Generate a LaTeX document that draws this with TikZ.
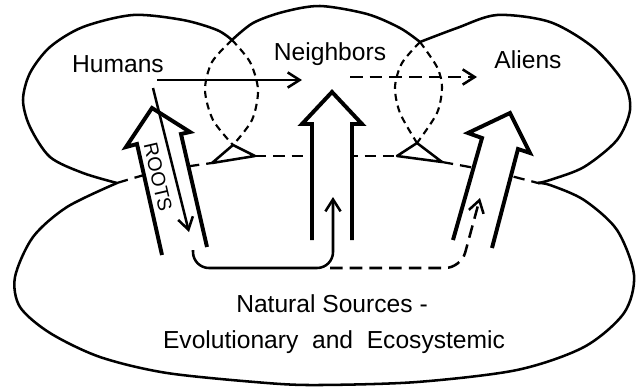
\documentclass[tikz,border=0pt]{standalone}
\usepackage{fontspec}
\setmainfont{Liberation Sans}
\usetikzlibrary{arrows.meta, positioning}
\tikzset{
  region/.style={line width=1.8pt, line join=round},
  seam/.style={line width=1.5pt, dash pattern=on 5pt off 3.5pt},
  horizon/.style={line width=1.6pt, dash pattern=on 8pt off 5pt},
  bigarrow/.style={line width=2.8pt, line join=miter},
  flowline/.style={line width=1.8pt, -{Straight Barb[length=3mm,width=3.8mm]}},
  dashflow/.style={flowline, dash pattern=on 9pt off 5pt},
  lbltext/.style={font=\fontsize{17.5}{21}\selectfont, inner sep=0pt, anchor=base},
}

\begin{document}
\begin{tikzpicture}[x=0.025cm, y=-0.025cm]
  \useasboundingbox (0,0) rectangle (637,389);
  % where the lobes meet
  \coordinate (notchL) at (117,183);
  \coordinate (notchR) at (538,183);
  \coordinate (cuspA) at (232,40);
  \coordinate (cuspB) at (420,42);
  \coordinate (apexA) at (233,145);
  \coordinate (apexB) at (417,143);
  % upper lobes
  \draw[region] plot[smooth] coordinates {(117,183) (83,173) (50,157) (30,127) (23,100) (30,73) (50,47) (83,27) (133,15) (183,20) (217,30) (232,40)};
  \draw[region] plot[smooth] coordinates {(232,40) (253,23) (283,12) (320,6) (367,14) (400,28) (420,42)};
  \draw[region] plot[smooth] coordinates {(420,42) (457,28) (497,15) (550,22) (594,48) (624,83) (630,110) (617,140) (584,167) (550,180) (538,183)};
  % lower lobe
  \draw[region] plot[smooth] coordinates {(117,183) (67,207) (33,237) (15,277) (20,307) (50,333) (100,357) (167,373) (267,383) (320,385) (417,382) (517,370) (584,347) (624,313) (634,275) (617,230) (584,200) (550,185) (538,183)};
  % overlaps
  \draw[seam] plot[smooth] coordinates {(232,40) (212,62) (205,90) (213,120) (233,145)};
  \draw[seam] plot[smooth] coordinates {(232,40) (250,62) (258,90) (252,120) (233,145)};
  \draw[region] (apexA) -- (212,163) coordinate (baseA1) -- (255,156) coordinate (baseA2) -- cycle;
  \draw[seam] plot[smooth] coordinates {(420,42) (402,63) (395,87) (400,113) (417,143)};
  \draw[seam] plot[smooth] coordinates {(420,42) (437,67) (442,87) (437,113) (417,143)};
  \draw[region] (apexB) -- (397,156) coordinate (baseB1) -- (442,162) coordinate (baseB2) -- cycle;
  % horizon
  \draw[horizon] plot[smooth] coordinates {(117,183) (160,171) (212,163)};
  \draw[horizon] (baseA2) -- (baseB1);
  \draw[horizon] plot[smooth] coordinates {(442,162) (490,171) (538,183)};
  % big arrows
  \fill[white] (162,255) -- (137,144) -- (126,147) -- (152,108) -- (190,132) -- (181,134) -- (207,247) -- cycle;
  \draw[bigarrow] (162,255) -- (137,144) -- (126,147) -- (152,108) -- (190,132) -- (181,134) -- (207,247);
  \fill[white] (312,240) -- (312,124) -- (302,124) -- (332,92) -- (362,124) -- (352,124) -- (352,240) -- cycle;
  \draw[bigarrow] (312,240) -- (312,124) -- (302,124) -- (332,92) -- (362,124) -- (352,124) -- (352,240);
  \fill[white] (453,240) -- (482,138) -- (468,133) -- (510,113) -- (530,153) -- (518,149) -- (492,248) -- cycle;
  \draw[bigarrow] (453,240) -- (482,138) -- (468,133) -- (510,113) -- (530,153) -- (518,149) -- (492,248);
  % labels
  \node[lbltext] (humans) at (118,72) {Humans};
  \node[lbltext] (neighbors) at (330,60) {Neighbors};
  \node[lbltext] (aliens) at (528,68) {Aliens};
  \node[lbltext] (natural) at (332,312) {Natural Sources -};
  \node[lbltext] (evol) at (334,348) {Evolutionary~ and~ Ecosystemic};
  \node[font=\fontsize{14}{16}\selectfont, rotate=-77, inner sep=0pt] (roots) at (158,177) {ROOTS};
  % flows
  \coordinate (humOut) at (157,80);
  \coordinate (neiIn) at (302,80);
  \coordinate (neiOut) at (350,77);
  \coordinate (alnIn) at (477,77);
  \coordinate (rootTop) at (153,88);
  \coordinate (rootEnd) at (189,232);
  \coordinate (natStart) at (193,250);
  \coordinate (natSplit) at (330,268);
  \coordinate (neiUp) at (333,197);
  \coordinate (alnUp) at (480,198);
  \draw[flowline] (humOut) -- (neiIn);
  \draw[dashflow] (neiOut) -- (alnIn);
  \draw[flowline] (rootTop) -- (rootEnd);
  \draw[flowline, rounded corners=0.4cm] (natStart) |- (natSplit -| neiUp) -- (neiUp);
  \draw[dashflow, rounded corners=0.4cm] (natSplit) -- (461,268) -- (alnUp);
\end{tikzpicture}
\end{document}
